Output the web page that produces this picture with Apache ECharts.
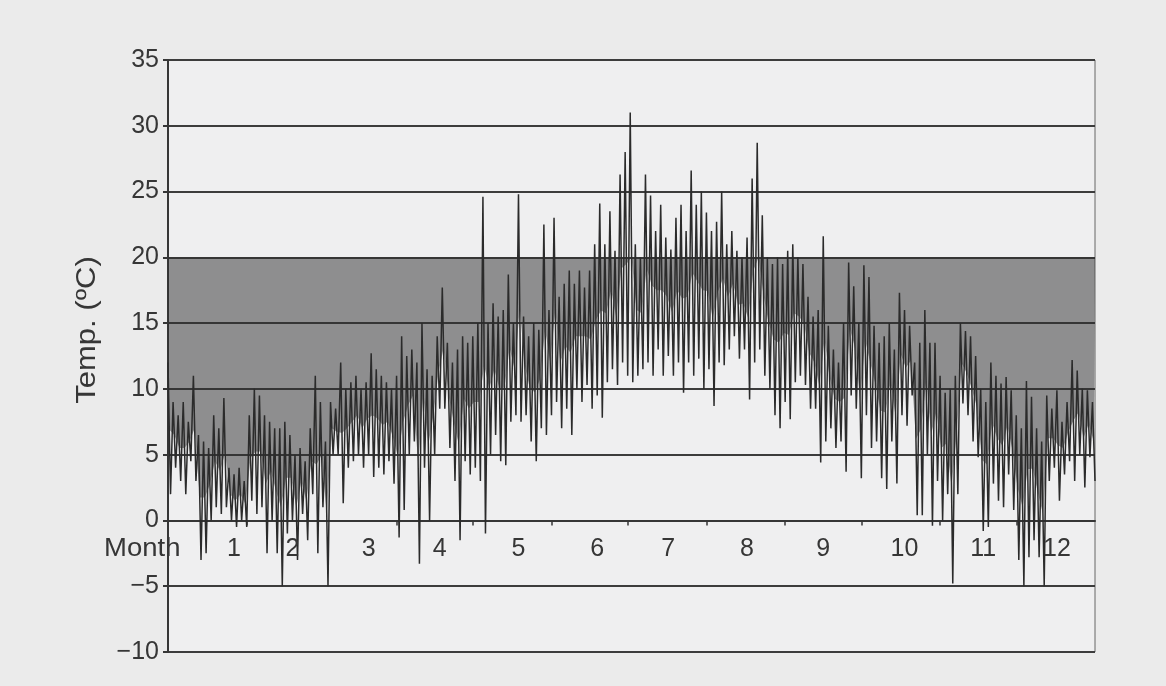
<!DOCTYPE html>
<html>
<head>
<meta charset="utf-8">
<script src="https://cdn.jsdelivr.net/npm/echarts@6/dist/echarts.min.js"></script>
<style>
  html, body { margin: 0; padding: 0; background: #ebebeb; }
  #chart { width: 1166px; height: 686px; }
</style>
</head>
<body>
<div id="chart"></div>
<script>
// each value covers 2 days: daily high then low
var binDays = 2;
var highs = [
  12, 9, 8, 9, 7.5, 11, 6.5, 6, 5.5, 8,
  7, 9.3, 4, 3.5, 4, 3, 8, 10, 9.5, 8,
  7.5, 7, 7, 7.5, 6.5, 5, 5.5, 4.5, 7, 11,
  9, 6, 9, 8.5, 12, 10, 10.5, 11, 10, 10.5,
  12.7, 11.5, 11, 10.5, 10, 11, 14, 12.5, 13, 12,
  15, 11.5, 11, 14, 17.7, 13.5, 12, 13, 14, 13.5,
  14, 15, 24.6, 15, 16.5, 15.5, 16, 18.7, 15, 24.8,
  15.5, 14, 15, 14.5, 22.5, 16, 23, 17, 18, 19,
  18, 19, 17.7, 19, 21, 24.1, 21, 23.5, 20.5, 26.3,
  28, 31, 21, 20, 26.3, 24.7, 22, 24, 21.5, 20.6,
  23, 24, 22, 26.6, 24, 25, 23.4, 22, 22.7, 25,
  21, 22, 20.5, 20, 21.5, 26, 28.7, 23.2, 20, 19.5,
  20, 19.5, 20.5, 21, 20, 19.5, 17, 15.5, 16, 21.6,
  14.8, 13, 12, 15, 19.6, 17.8, 15, 19.4, 18.5, 14.8,
  13.5, 14, 15, 13, 17.3, 16, 14.8, 12, 13.5, 16,
  13.5, 13.5, 11, 9.7, 10, 11, 15, 14.4, 14, 12.5,
  10, 9, 12, 11, 10.4, 10.9, 9.9, 8, 7, 10.6,
  9.4, 7, 6, 9.5, 8.5, 9.9, 7.5, 9, 12.2, 11.4,
  10, 9.9, 9
];
var lows = [
  2, 4, 3, 2, 4.5, 3, -3, -2.5, 0, 1,
  0.5, 1, 0, -0.5, 0, -0.5, 1.5, 0.5, 1, -2.5,
  0, -2.5, -5, -1, 0, -3, 0.5, -1.5, 2, -2.5,
  1, -5, 5, 5, 1.3, 4, 4.5, 5, 4, 5,
  3.3, 4, 3.5, 4.5, 2.8, -1.3, 0.8, 5, 6, -3.3,
  4, 0, 5, 8.5, 8.5, 5.5, 3, -1.5, 4.5, 3.5,
  4, 3, -1, 5, 6.5, 4.5, 4.2, 7.5, 8, 7.5,
  8, 6, 4.5, 7, 6.5, 8, 9, 7, 8.5, 6.5,
  10, 9, 10.3, 8.5, 9.5, 7.8, 10.5, 11.5, 10.3, 12,
  11, 10.5, 11, 11.5, 12, 11, 13, 11, 12.5, 11,
  12, 9.7, 12, 11, 12.3, 10, 11.5, 8.7, 12, 11.8,
  13, 14, 12.3, 13, 9.2, 12, 13, 11, 10, 8,
  7, 9, 7.7, 10.5, 11, 10.3, 8.5, 8.5, 4.4, 6,
  7, 5.5, 6, 3.7, 9.5, 8.5, 3.2, 8, 5.5, 6,
  3.2, 2.4, 6, 2.8, 8, 7.2, 9.5, 0.4, 0.4, 5,
  -0.4, 3, 0, 2, -4.8, 2, 8.9, 8, 6, 4.8,
  -0.8, -0.5, 2.8, 1.5, 1, 3.5, 0.8, -3, -5, -2.8,
  -1.5, -2.8, -5, 3, 4, 1.5, 3.5, 4.5, 3, 5,
  2.5, 4.8, 3
];
var comfortTop = 20;
var monthStartDays = [31, 59, 90, 120, 151, 181, 212, 243, 273, 304, 334];
var monthLabelDays = [26, 49, 79, 107, 138, 169, 197, 228, 258, 290, 321, 350];
var monthLabels = ['1', '2', '3', '4', '5', '6', '7', '8', '9', '10', '11', '12'];

var trace = [];
var fill = [];
for (var i = 0; i < highs.length; i++) {
  trace.push([i * binDays, highs[i]]);
  trace.push([i * binDays + 1, lows[i]]);
  fill.push([i * binDays + 0.5, Math.min((highs[i] + lows[i]) / 2, comfortTop)]);
}
fill.unshift([0, fill[0][1]]);
fill.push([365, fill[fill.length - 1][1]]);

var font = 'Liberation Sans, Arial, sans-serif';
var ink = '#363636';

var option = {
  backgroundColor: '#ebebeb',
  animation: false,
  grid: {
    left: 168, right: 71, top: 60, bottom: 34,
    show: true, backgroundColor: '#efeff0', borderColor: '#666', borderWidth: 1
  },
  xAxis: {
    type: 'value', min: 0, max: 365,
    axisLine: { onZero: true, lineStyle: { color: ink, width: 2 } },
    axisTick: { show: true, customValues: monthStartDays, length: 5, inside: false, lineStyle: { color: ink, width: 1.5 } },
    axisLabel: { show: false },
    splitLine: { show: false }
  },
  yAxis: {
    type: 'value', min: -10, max: 35, interval: 5,
    axisLine: { show: true, lineStyle: { color: ink, width: 2 } },
    axisTick: { show: true, length: 5, lineStyle: { color: ink, width: 2 } },
    axisLabel: {
      margin: 9, fontFamily: font, fontSize: 25, color: ink,
      formatter: function (v) { return String(v).replace('-', '\u2212'); }
    },
    splitLine: { lineStyle: { color: '#3c3c3c', width: 2 } }
  },
  graphic: [
    { type: 'text', left: 104, top: 537, scaleX: 1.1,
      style: { text: 'Month', font: '25px ' + font, fill: ink } },
    { type: 'text', x: 88, y: 330, rotation: Math.PI / 2, scaleX: 1.15,
      style: { text: 'Temp. (\u00baC)', font: '27px ' + font, fill: ink, align: 'center', verticalAlign: 'middle' } }
  ],
  series: [
    {
      type: 'line', data: fill, symbol: 'none', smooth: false,
      lineStyle: { width: 0 },
      areaStyle: { origin: comfortTop, color: '#2e2e2e', opacity: 0.5 },
      silent: true, z: 1
    },
    {
      type: 'line', data: trace, symbol: 'none',
      lineStyle: { color: '#2b2b2b', width: 1.5 },
      z: 3
    },
    {
      type: 'scatter', symbolSize: 0, silent: true, z: 4,
      itemStyle: { opacity: 1 },
      data: monthLabelDays.map(function (d) { return [d, 0]; }),
      label: {
        show: true, position: 'bottom', distance: 16, opacity: 1,
        fontFamily: font, fontSize: 25, color: ink, textBorderWidth: 0,
        formatter: function (p) { return monthLabels[p.dataIndex]; }
      }
    }
  ]
};

var myChart = echarts.init(document.getElementById('chart'));
myChart.setOption(option);
</script>
</body>
</html>
